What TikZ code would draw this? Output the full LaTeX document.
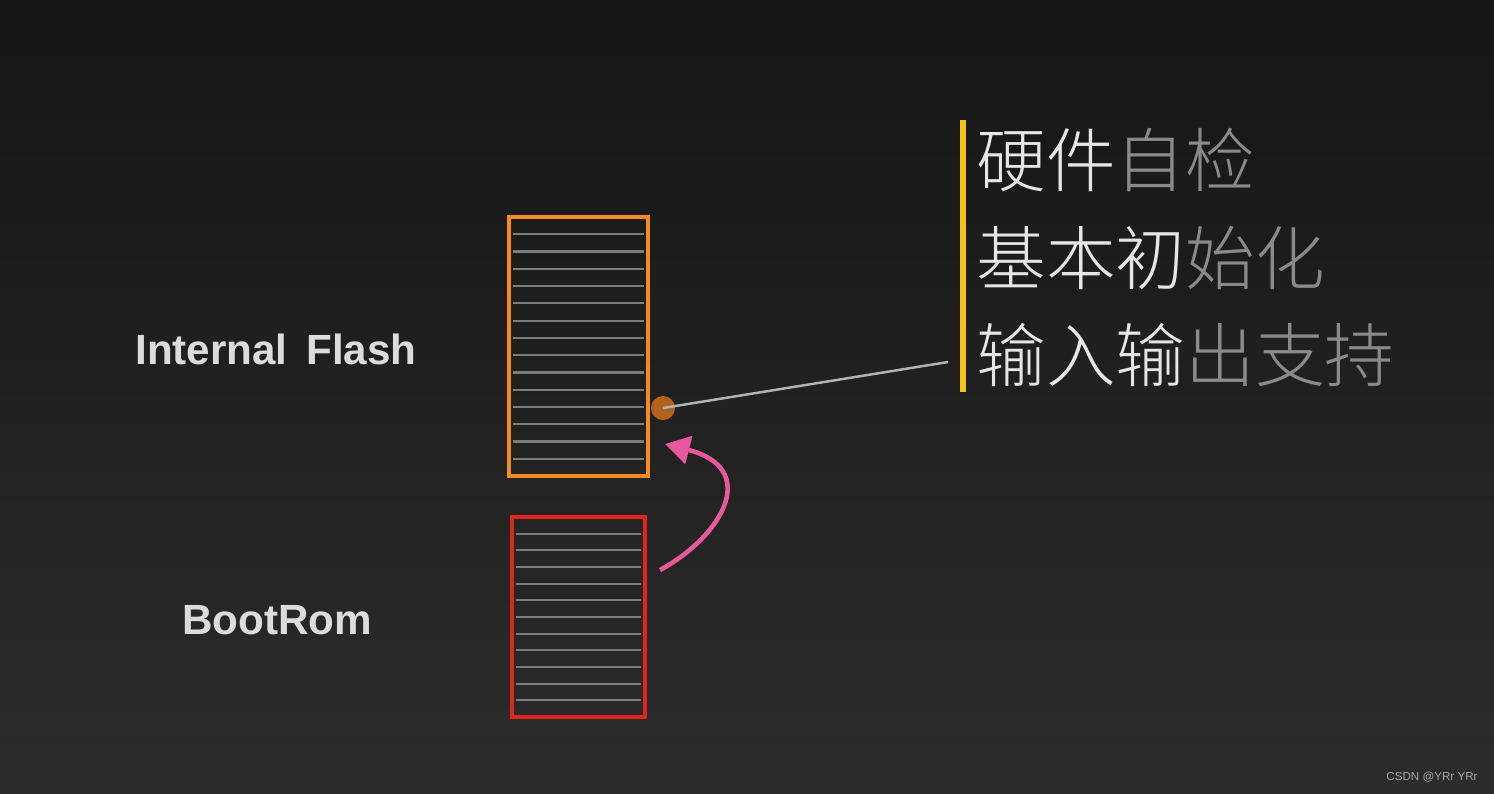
\documentclass[tikz,border=0pt]{standalone}
\usepackage{fontspec}
\setmainfont{Liberation Sans}
\newfontfamily\cjk[UprightFont={* Light}]{Noto Sans CJK SC}
\usetikzlibrary{positioning,arrows.meta}
\definecolor{bgtop}{HTML}{151515}
\definecolor{bgbot}{HTML}{2C2C2C}
\definecolor{flashc}{HTML}{F58A1F}
\definecolor{romc}{HTML}{E0261A}
\definecolor{rowc}{HTML}{7C7C7C}
\definecolor{dotc}{HTML}{B3621E}
\definecolor{barc}{HTML}{F2C318}
\definecolor{pinkc}{HTML}{E8589C}
\definecolor{lit}{HTML}{E6E6E6}
\definecolor{dim}{HTML}{8A8A8A}

\begin{document}
\begin{tikzpicture}[x=0.01cm,y=-0.01cm,
  row/.style={draw=rowc,line width=0.6pt},
  lbl/.style={font=\bfseries\fontsize{12}{14}\selectfont,text=lit!90!gray},
  step line/.style={font=\cjk\fontsize{19.8}{24}\selectfont,anchor=west,inner sep=0pt},
]
% ----- background -----
\shade[top color=bgtop,bottom color=bgbot] (0,0) rectangle (1494,793);
\useasboundingbox (0,0) rectangle (1494,793);

% ----- Internal Flash -----
\draw[flashc,line width=1.2pt] (509,217) rectangle (648,476);
\foreach \i in {1,...,14}
  \draw[row] (513,{217+\i*17.27}) -- (644,{217+\i*17.27});
\node[lbl] (flash) at (276,349) {Internal\, Flash};

% ----- BootRom -----
\draw[romc,line width=1.2pt] (512,517) rectangle (645,717);
\foreach \i in {1,...,11}
  \draw[row] (516,{517+\i*16.67}) -- (641,{517+\i*16.67});
\node[lbl] (rom) at (277,620) {BootRom};

% ----- jump arrow -----
\coordinate (jmpA) at (660,570);
\coordinate (jmpB) at (665,444);
\draw[pinkc,line width=1.3pt,-{Triangle[length=7pt,width=8pt]}]
  (jmpA) .. controls (724,535) and (760,468) .. (jmpB);

% ----- callout -----
\node[circle,fill=dotc,inner sep=0pt,minimum size=0.24cm] (pin) at (663,408) {};
\coordinate (barend) at (948,362);
\draw[gray!60!white,line width=0.7pt] (pin.center) -- (barend);
\draw[barc,line width=1.5pt] (963,120) -- (963,392);

\node[step line] (s1) at (976,160) {\textcolor{lit}{硬件}\textcolor{dim}{自检}};
\node[step line] (s2) at (976,258) {\textcolor{lit}{基本初}\textcolor{dim}{始化}};
\node[step line] (s3) at (976,355) {\textcolor{lit}{输入输}\textcolor{dim}{出支持}};

% ----- watermark -----
\node[font=\fontsize{3.3}{4}\selectfont,text=gray!70!white] (mark) at (1432,777) {CSDN @YRr YRr};
\end{tikzpicture}
\end{document}
